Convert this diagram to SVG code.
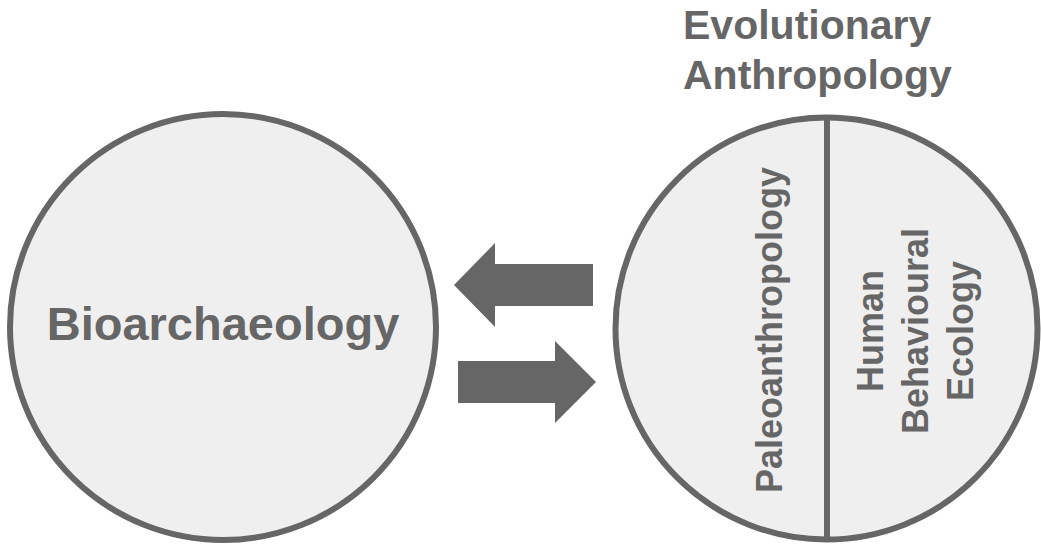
<svg xmlns="http://www.w3.org/2000/svg" width="1041" height="548" viewBox="0 0 1041 548">
<style>
.c{fill:#efefef;stroke:#666;stroke-width:6}
.t{font-family:"Liberation Sans",Arial,sans-serif;font-weight:bold;fill:#666}
.a{fill:#666}
</style>
<rect width="1041" height="548" fill="#fff"/>
<g id="bioarchaeology">
<circle class="c" cx="223" cy="327" r="213"/>
<text class="t" x="223" y="340" font-size="47" text-anchor="middle">Bioarchaeology</text>
</g>
<g id="evolutionary-anthropology">
<text class="t" x="683" y="39" font-size="41">Evolutionary</text>
<text class="t" x="683" y="89" font-size="41">Anthropology</text>
<circle class="c" cx="826.5" cy="328.5" r="211"/>
<line x1="827" y1="117" x2="827" y2="540" stroke="#666" stroke-width="6"/>
</g>
<g id="paleoanthropology">
<text class="t" font-size="36" text-anchor="middle" transform="translate(781.5,330) rotate(-90)">Paleoanthropology</text>
</g>
<g id="human-behavioural-ecology">
<text class="t" font-size="36" text-anchor="middle" transform="translate(883,331) rotate(-90)">Human</text>
<text class="t" font-size="36" text-anchor="middle" transform="translate(928,331) rotate(-90)">Behavioural</text>
<text class="t" font-size="36" text-anchor="middle" transform="translate(973,331) rotate(-90)">Ecology</text>
</g>
<g id="connectors">
<polygon class="a" points="593,264 495,264 495,243 454,285 495,327 495,306 593,306"/>
<polygon class="a" points="458,361 555,361 555,341 596,382 555,423 555,403 458,403"/>
</g>
</svg>
